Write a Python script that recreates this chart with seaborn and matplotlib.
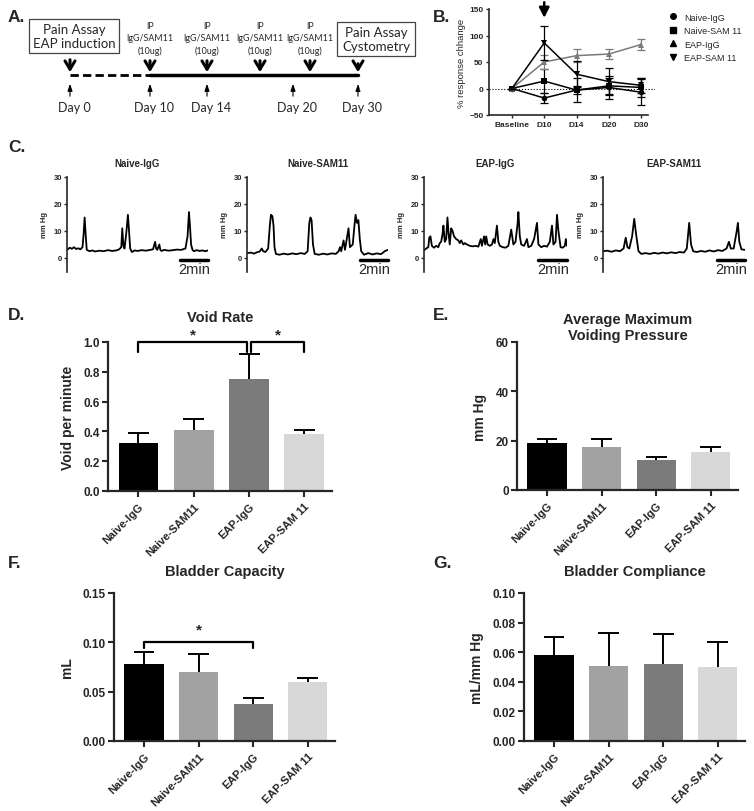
import numpy as np
import pandas as pd
import matplotlib
matplotlib.use("Agg")
import matplotlib.pyplot as plt
from matplotlib.lines import Line2D
from matplotlib.ticker import FormatStrFormatter
import seaborn as sns

# ---- data ----
groups = ["Naive-IgG", "Naive-SAM11", "EAP-IgG", "EAP-SAM 11"]
bar_colors = ["#000000", "#a2a2a2", "#7b7b7b", "#d8d8d8"]

void_rate = [0.32, 0.41, 0.75, 0.38]
void_rate_err = [0.07, 0.07, 0.17, 0.03]
max_pressure = [19.0, 17.5, 12.0, 15.5]
max_pressure_err = [1.5, 3.0, 1.5, 2.0]
capacity = [0.078, 0.070, 0.037, 0.060]
capacity_err = [0.012, 0.018, 0.007, 0.004]
compliance = [0.058, 0.051, 0.052, 0.050]
compliance_err = [0.012, 0.022, 0.020, 0.017]

days = ["Baseline", "D10", "D14", "D20", "D30"]
pain_groups = ["Naive-IgG", "Naive-SAM 11", "EAP-IgG", "EAP-SAM 11"]
pain_markers = ["o", "s", "^", "v"]
pain_colors = ["black", "black", "#7a7a7a", "black"]
pain_naive_igg = [0, -18, -3, 2, -7]
pain_naive_igg_err = [0, 10, 23, 22, 24]
pain_naive_sam = [0, 14, -3, 5, 2]
pain_naive_sam_err = [0, 22, 8, 15, 18]
pain_eap_igg = [0, 50, 62, 65, 83]
pain_eap_igg_err = [0, 13, 12, 10, 10]
pain_eap_sam = [0, 86, 27, 13, 6]
pain_eap_sam_err = [0, 32, 24, 25, 14]

trace_titles = ["Naive-IgG", "Naive-SAM11", "EAP-IgG", "EAP-SAM11"]
trace_naive_igg = [(0, 3.0), (0.2, 3.8), (0.35, 3.4), (0.5, 4.0), (0.65, 3.3), (0.8, 3.6), (0.95, 3.2),
                   (1.1, 4.0), (1.18, 9), (1.25, 15), (1.32, 9), (1.4, 3.0), (1.6, 2.5), (1.8, 2.8),
                   (2.0, 2.4), (2.3, 2.7), (2.6, 2.5), (2.9, 2.9), (3.2, 2.6), (3.5, 2.8), (3.7, 3.2),
                   (3.85, 4.0), (3.92, 11), (4.0, 4.5), (4.08, 3.5), (4.2, 9), (4.32, 16), (4.4, 10),
                   (4.48, 3.5), (4.6, 2.2), (4.8, 2.8), (5.0, 2.6), (5.3, 2.9), (5.6, 2.7), (5.9, 3.0),
                   (6.1, 3.2), (6.25, 6), (6.32, 3.5), (6.4, 3.0), (6.55, 5), (6.62, 3.0), (6.7, 2.6),
                   (6.9, 3.0), (7.2, 2.7), (7.5, 2.9), (7.8, 3.1), (8.1, 3.0), (8.4, 3.5), (8.55, 8),
                   (8.65, 17), (8.72, 12), (8.8, 5), (8.9, 3.0), (9.0, 2.5), (9.2, 2.9), (9.4, 2.6),
                   (9.6, 2.8), (9.8, 2.5), (10, 2.8)]
trace_naive_sam = [(0, 1.8), (0.3, 2.0), (0.5, 1.6), (0.7, 2.1), (0.9, 2.4), (1.05, 3.5), (1.15, 2.5),
                   (1.3, 2.2), (1.5, 3.5), (1.62, 12), (1.7, 16), (1.8, 15.5), (1.88, 12), (1.95, 4),
                   (2.05, 1.5), (2.3, 1.2), (2.6, 1.6), (2.9, 1.3), (3.2, 1.7), (3.5, 1.4), (3.8, 1.8),
                   (4.1, 1.5), (4.3, 2.5), (4.42, 13), (4.5, 15), (4.58, 14), (4.68, 5), (4.8, 1.5),
                   (5.1, 1.2), (5.4, 1.6), (5.7, 1.3), (6.0, 1.7), (6.3, 1.5), (6.5, 2.5), (6.6, 4),
                   (6.68, 2.5), (6.85, 6.5), (6.95, 3), (7.2, 11), (7.3, 4), (7.5, 5), (7.62, 12),
                   (7.7, 16), (7.8, 13), (7.9, 14), (8.0, 7), (8.1, 2.5), (8.3, 1.2), (8.6, 1.8),
                   (8.9, 1.3), (9.2, 1.7), (9.5, 1.4), (9.8, 2.6), (10, 3.0)]
trace_eap_igg = [(0, 2.8), (0.15, 3.5), (0.3, 4), (0.37, 7.5), (0.45, 8), (0.55, 4.5), (0.7, 3.8),
                 (0.85, 4.5), (1.0, 4), (1.1, 5.5), (1.2, 6), (1.3, 9), (1.36, 12), (1.45, 6),
                 (1.55, 7), (1.64, 15), (1.72, 9), (1.8, 5), (1.9, 11), (2.0, 10), (2.1, 8),
                 (2.25, 7), (2.4, 6.5), (2.5, 5.5), (2.6, 6.5), (2.75, 5), (2.85, 5.5), (3.0, 5),
                 (3.2, 4.5), (3.4, 4.3), (3.6, 4.5), (3.8, 4.2), (3.97, 7), (4.05, 4.5), (4.2, 8),
                 (4.28, 5), (4.35, 8), (4.45, 5), (4.6, 4.5), (4.75, 5), (4.86, 7), (4.95, 5.5),
                 (5.1, 12), (5.2, 6), (5.3, 4.5), (5.5, 4), (5.7, 3.8), (5.9, 4.5), (6.1, 10.5),
                 (6.25, 5), (6.4, 6), (6.55, 13), (6.6, 17), (6.7, 8), (6.8, 5), (7.0, 4.5),
                 (7.2, 7), (7.3, 4), (7.5, 4.5), (7.7, 7), (7.9, 13), (8.0, 5), (8.2, 4),
                 (8.4, 4.5), (8.6, 4.2), (8.8, 6), (8.95, 12), (9.05, 5), (9.2, 6), (9.3, 16),
                 (9.4, 10), (9.55, 4), (9.7, 3.8), (9.85, 4.5), (9.92, 7), (10, 4.5)]
trace_eap_sam = [(0, 2.5), (0.3, 2.7), (0.6, 2.3), (0.9, 2.8), (1.2, 2.5), (1.45, 3.5), (1.6, 7.5),
                 (1.72, 4), (1.85, 3.5), (2.05, 8), (2.2, 14.5), (2.35, 8), (2.5, 2.5), (2.7, 1.5),
                 (3.0, 1.8), (3.3, 1.5), (3.6, 1.9), (3.9, 1.6), (4.2, 2.0), (4.5, 1.7), (4.8, 2.1),
                 (5.1, 1.8), (5.4, 2.2), (5.7, 2.0), (5.9, 3.5), (6.07, 13), (6.2, 5), (6.35, 2.5),
                 (6.6, 2.2), (6.9, 2.6), (7.2, 2.3), (7.5, 2.8), (7.8, 2.4), (8.1, 2.9), (8.4, 2.6),
                 (8.7, 3.5), (8.87, 6), (9.0, 3.5), (9.2, 3.5), (9.42, 10), (9.5, 13), (9.6, 6),
                 (9.75, 3.2), (10, 3.0)]
scale_bar_min = 2

# timeline schematic (schematic x units)
day_labels = ["Day 0", "Day 10", "Day 14", "Day 20", "Day 30"]
day_pos = [70, 150, 207, 293, 358]
ip_pos = [150, 207, 260, 310]
ip_text = "IP\nIgG/SAM11\n(10ug)"

W, H = 754, 812


def box(l, t, r, b):
    return [l / W, 1 - b / H, (r - l) / W, (b - t) / H]


sns.set_theme(style="ticks")
plt.rcParams['font.family'] = ['Liberation Sans', 'DejaVu Sans']
plt.rcParams['font.weight'] = 'bold'
plt.rcParams['axes.labelweight'] = 'bold'
plt.rcParams['axes.titleweight'] = 'bold'

fig = plt.figure(figsize=(W / 100, H / 100), dpi=100)

# ---- panel letters ----
for letter, x, y in [("A.", 8, 18), ("B.", 433, 18), ("C.", 8, 148), ("D.", 8, 315),
                     ("E.", 433, 315), ("F.", 8, 563), ("G.", 433, 563)]:
    fig.text(x / W, 1 - y / H, letter, fontsize=12.5, fontweight='bold', va='center', ha='left')

# ---- A: timeline ----
ax = fig.add_axes(box(0, 0, 440, 135))
ax.set_xlim(0, 440)
ax.set_ylim(135, 0)
ax.axis('off')
ax.plot([day_pos[0], day_pos[1]], [76, 76], color='black', lw=2, ls=(0, (3, 1.5)))
ax.plot([day_pos[1], day_pos[-1]], [76, 76], color='black', lw=2.5)
big_arrow = dict(arrowstyle='->, head_length=0.5, head_width=0.3', lw=2.2, color='black')
for x in ip_pos:
    ax.text(x, 39, ip_text, ha='center', va='center', fontsize=6.4, family='Lato',
            fontweight='normal', linespacing=1.5)
    ax.annotate("", xy=(x, 76), xytext=(x, 59), arrowprops=big_arrow)
ax.text(74, 37, "Pain Assay\nEAP induction", ha='center', va='center', fontsize=9.5, family='Lato',
        fontweight='normal', linespacing=1.15,
        bbox=dict(boxstyle='square,pad=0.3', fc='white', ec='#444444', lw=0.9))
ax.annotate("", xy=(day_pos[0], 76), xytext=(day_pos[0], 58), arrowprops=big_arrow)
ax.text(376, 40, "Pain Assay\nCystometry", ha='center', va='center', fontsize=9.5, family='Lato',
        fontweight='normal', linespacing=1.15,
        bbox=dict(boxstyle='square,pad=0.35', fc='white', ec='#444444', lw=0.9))
ax.annotate("", xy=(day_pos[-1], 76), xytext=(day_pos[-1], 62), arrowprops=big_arrow)
for i, (lab, x) in enumerate(zip(day_labels, day_pos)):
    ls = '--' if i == len(day_pos) - 1 else '-'
    ax.annotate("", xy=(x, 82), xytext=(x, 100),
                arrowprops=dict(arrowstyle='-|>, head_length=0.35, head_width=0.12', lw=0.8,
                                color='black', ls=ls))
    ax.text(x + 4, 108, lab, ha='center', va='center', fontsize=9, family='Lato', fontweight='normal')

# ---- B: pain response ----
ax = fig.add_axes(box(489, 10, 655, 116))
xpos = np.arange(len(days))
pain_vals = [pain_naive_igg, pain_naive_sam, pain_eap_igg, pain_eap_sam]
pain_errs = [pain_naive_igg_err, pain_naive_sam_err, pain_eap_igg_err, pain_eap_sam_err]
rows = []
for g, vals in zip(pain_groups, pain_vals):
    for d, v in zip(xpos, vals):
        rows.append({"day": d, "change": v, "group": g})
pain_df = pd.DataFrame(rows)
ax.axhline(0, color='black', lw=0.8, ls=':', zorder=0)
sns.lineplot(data=pain_df, x="day", y="change", hue="group", style="group",
             palette=dict(zip(pain_groups, pain_colors)), markers=dict(zip(pain_groups, pain_markers)),
             dashes=False, lw=1.1, markersize=4, markeredgewidth=0, legend=False, ax=ax)
for vals, errs, c in zip(pain_vals, pain_errs, pain_colors):
    ax.errorbar(xpos, vals, yerr=errs, fmt='none', ecolor=c, elinewidth=0.9, capsize=3, capthick=0.9)
ax.annotate("", xy=(1, 128), xytext=(1, 168), annotation_clip=False,
            arrowprops=dict(arrowstyle='-|>, head_length=0.5, head_width=0.25', lw=1.8, color='black'))
ax.set_xlim(-0.71, 4.43)
ax.set_ylim(-50, 150)
ax.set_yticks([-50, 0, 50, 100, 150])
ax.set_xticks(xpos)
ax.set_xticklabels(days)
ax.spines['bottom'].set_bounds(-0.71, 4.2)
sns.despine(ax=ax)
ax.tick_params(labelsize=6, length=2.5, width=1, pad=1.5)
ax.set_xlabel("")
ax.set_ylabel("% response chhange", fontsize=6.8, fontweight='normal', labelpad=2)
for sp in ['left', 'bottom']:
    ax.spines[sp].set_linewidth(1.2)
handles = [Line2D([], [], ls='none', marker=m, color='black', markersize=4) for m in pain_markers]
fig.legend(handles, pain_groups, loc='upper left', bbox_to_anchor=(664 / W, 1 - 9 / H),
           frameon=False, prop={'size': 6.5, 'weight': 'normal'}, handlelength=1,
           handletextpad=0.7, labelspacing=0.5, borderpad=0)

# ---- C: cystometry traces ----
traces = [trace_naive_igg, trace_naive_sam, trace_eap_igg, trace_eap_sam]
trace_x = [(67, 208), (247, 388), (424, 567), (603, 745)]
for (l, r), tr, title in zip(trace_x, traces, trace_titles):
    ax = fig.add_axes(box(l, 178, r, 273))
    tdf = pd.DataFrame(tr, columns=["min", "mmHg"])
    sns.lineplot(data=tdf, x="min", y="mmHg", color='black', lw=1.3, ax=ax)
    ax.set_xlim(0, 10)
    ax.set_ylim(-5.2, 30)
    ax.set_yticks([0, 10, 20, 30])
    ax.set_xticks([])
    sns.despine(ax=ax, bottom=True)
    ax.spines['left'].set_linewidth(1.2)
    ax.tick_params(labelsize=5.5, length=2.5, width=1, pad=1)
    ax.set_xlabel("")
    ax.set_ylabel("mm Hg", fontsize=5.5, labelpad=4)
    ax.set_title(title, fontsize=7, pad=8)
    ax.plot([10 - scale_bar_min, 10], [-0.6, -0.6], color='black', lw=2.5, clip_on=False)
    ax.text(10 - scale_bar_min / 2, -1.4, "2min", ha='center', va='top', fontsize=10.5, fontweight='normal')


# ---- D-G: bar panels ----
def bar_panel(rect, values, errs, ylim, yticks, fmt, ylabel, title, pad):
    ax = fig.add_axes(rect)
    df = pd.DataFrame({"group": groups, "value": values})
    sns.barplot(data=df, x="group", y="value", hue="group", palette=bar_colors, legend=False,
                width=0.72, saturation=1, linewidth=0, errorbar=None, ax=ax)
    x = np.arange(len(values))
    tops = np.array(values) + np.array(errs)
    ax.vlines(x, values, tops, color='black', lw=1.4, zorder=3)
    ax.hlines(tops, x - 0.19, x + 0.19, color='black', lw=1.4, zorder=3)
    ax.set_xlim(-0.55, 3.5)
    ax.set_ylim(*ylim)
    ax.set_yticks(yticks)
    ax.yaxis.set_major_formatter(FormatStrFormatter(fmt))
    ax.set_xticks(x)
    ax.set_xticklabels(groups, rotation=45, ha='right', rotation_mode='anchor')
    sns.despine(ax=ax)
    for sp in ['left', 'bottom']:
        ax.spines[sp].set_linewidth(1.6)
    ax.tick_params(labelsize=8.5, length=4, width=1.5, pad=2)
    ax.tick_params(axis='x', pad=3, labelsize=8)
    ax.set_xlabel("")
    ax.set_ylabel(ylabel, fontsize=10, labelpad=6)
    ax.set_title(title, fontsize=10.5, pad=pad)
    return ax


def bracket(ax, x0, x1, y, drop, star_y):
    ax.plot([x0, x0, x1, x1], [y - drop, y, y, y - drop], color='black', lw=1.6, clip_on=False)
    ax.text((x0 + x1) / 2, star_y, "*", ha='center', va='center', fontsize=11)


ax = bar_panel(box(108, 343, 332, 492), void_rate, void_rate_err, (0, 1.0),
               [0, 0.2, 0.4, 0.6, 0.8, 1.0], '%.1f', "Void per minute", "Void Rate", 15)
bracket(ax, 0, 1.97, 1.0, 0.07, 1.05)
bracket(ax, 2.03, 3, 1.0, 0.07, 1.05)

bar_panel(box(517, 343, 738, 491), max_pressure, max_pressure_err, (0, 60),
          [0, 20, 40, 60], '%d', "mm Hg", "Average Maximum\nVoiding Pressure", -3)

ax = bar_panel(box(114, 594, 335, 742), capacity, capacity_err, (0, 0.15),
               [0, 0.05, 0.10, 0.15], '%.2f', "mL", "Bladder Capacity", 13)
bracket(ax, 0, 2, 0.10, 0.006, 0.1135)

bar_panel(box(524, 594, 745, 742), compliance, compliance_err, (0, 0.10),
          [0, 0.02, 0.04, 0.06, 0.08, 0.10], '%.2f', "mL/mm Hg", "Bladder Compliance", 13)

fig.savefig("out.png", dpi=100)
